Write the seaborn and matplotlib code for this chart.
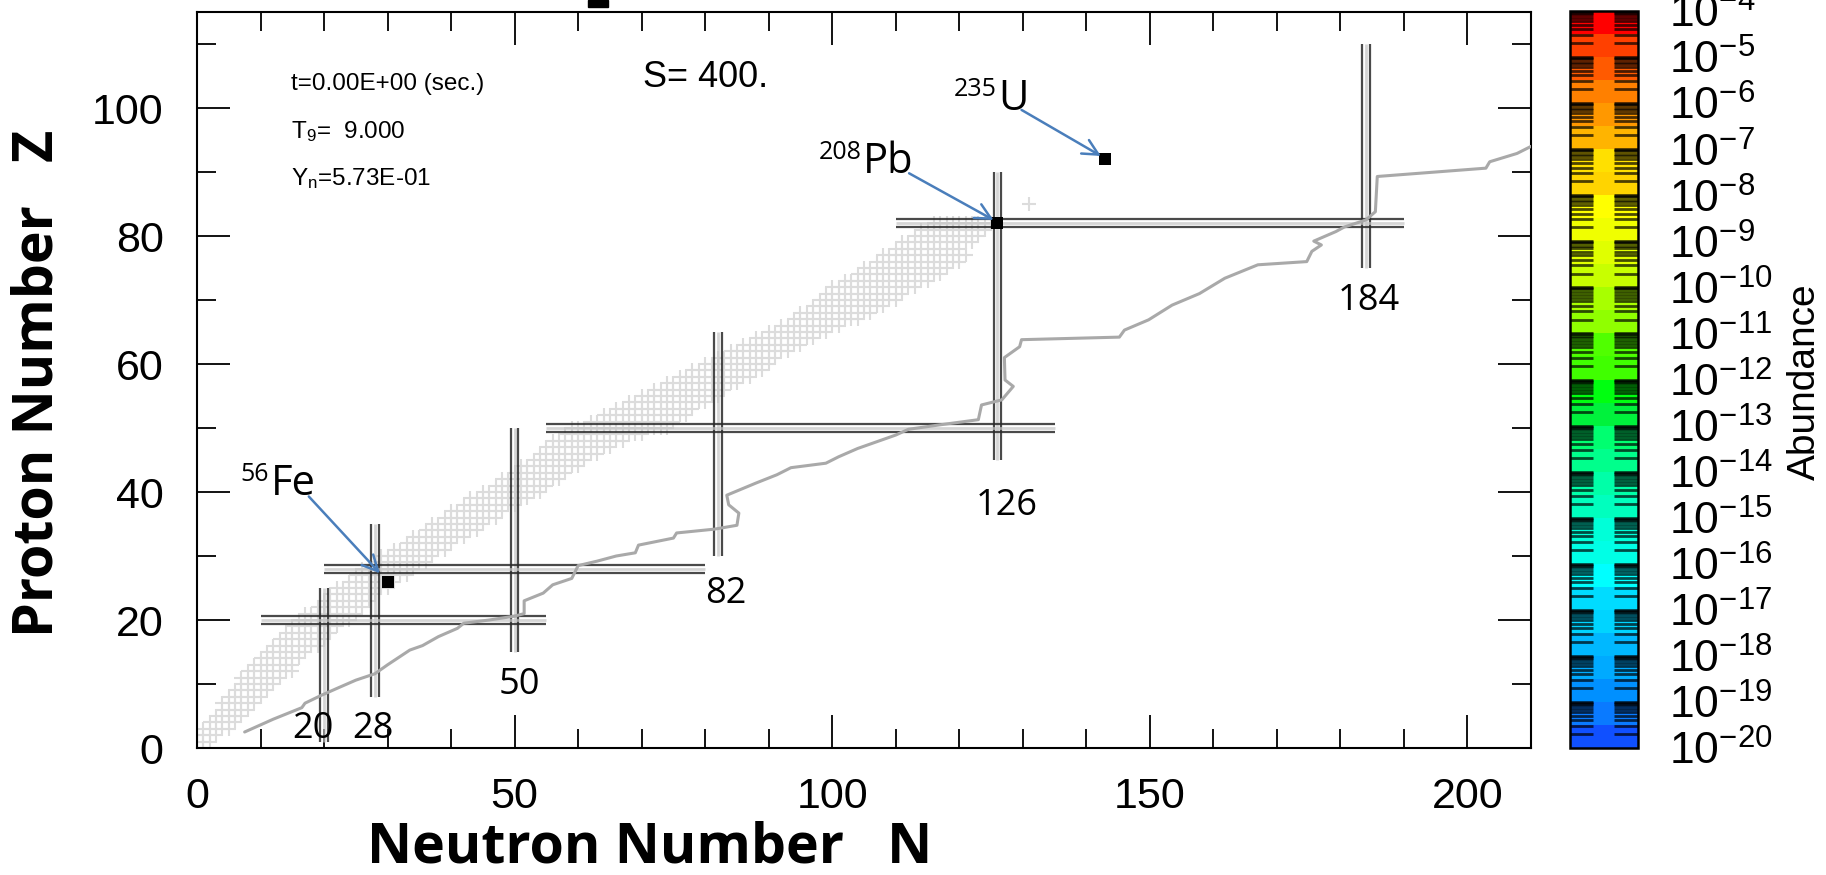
import numpy as np
import pandas as pd
import matplotlib
matplotlib.use("Agg")
import matplotlib.pyplot as plt
from matplotlib import font_manager
from matplotlib.colors import ListedColormap, LogNorm
from matplotlib.patches import Rectangle
from matplotlib.ticker import MultipleLocator, LogFormatterSciNotation
import seaborn as sns

# ---------------------------------------------------------------- data
# band of nuclides drawn as light crosses: neutron range for each proton number
band_Z = list(range(0, 83)) + [85]
band_Nlo = [0, 0, 0, 1, 2, 3, 4, 4, 5, 6, 7, 7, 8, 9, 10, 11, 12, 13, 14, 15,
            16, 17, 19, 20, 21, 22, 24, 25, 26, 28, 29, 31, 33, 34, 36, 37, 39, 40, 42, 43,
            45, 47, 48, 50, 51, 53, 54, 55, 56, 58, 59, 62, 64, 66, 68, 70, 72, 74, 76, 78,
            80, 82, 84, 86, 88, 90, 92, 94, 95, 97, 98, 99, 100, 102, 104, 105, 107, 108, 110,
            111, 113, 114, 116, 131]
band_Nhi = [1, 2, 3, 5, 6, 7, 8, 9, 10, 11, 12, 13, 15, 15, 16, 17, 19, 20, 21, 22,
            24, 25, 26, 27, 28, 30, 31, 33, 34, 36, 37, 39, 40, 42, 44, 45, 47, 48, 50, 52,
            54, 55, 57, 58, 60, 61, 63, 65, 67, 70, 74, 75, 77, 78, 80, 82, 83, 85, 87, 89,
            90, 91, 93, 95, 97, 99, 101, 104, 106, 108, 110, 111, 113, 115, 117, 118, 120, 121, 120,
            122, 123, 124, 125, 131]

# path line (N, Z)
path_N = [7.5, 12, 16.5, 17, 19.5, 22, 25, 28, 30, 33.5, 35.5, 38, 41, 42, 46, 50, 51.5,
          51.5, 54.5, 56, 59, 60, 63, 66, 69, 69.5, 75, 75.5, 81.5, 85, 85.3, 83.7, 83.4,
          88, 91.3, 93.5, 99, 101, 104, 110, 112, 117, 123, 123.5, 126.7, 128.5, 127.2,
          127.1, 129.5, 129.8, 145.2, 146, 149.8, 153.5, 157.8, 161.8, 167, 174.7, 175.5,
          177, 175.8, 179.3, 180.6, 184, 185.5, 185.8, 202.9, 203.5, 207.8, 210]
path_Z = [2.5, 4.5, 6.3, 7, 8.2, 9.3, 10.6, 11.6, 13, 15.3, 16, 17.4, 18.7, 19.5, 20, 20.6, 21,
          23, 24.2, 25.5, 26.5, 28.5, 29.2, 30, 30.5, 31.7, 32.8, 33.6, 34.2, 34.8, 36.7, 38, 39.5,
          41.4, 42.7, 43.8, 44.5, 45.5, 46.8, 48.9, 49.8, 50.5, 51.3, 53.6, 54.4, 56.5, 57.5,
          61, 62.7, 63.8, 64.2, 65.3, 66.9, 69.2, 71, 73.4, 75.5, 76, 77.6,
          78.6, 79.2, 80.7, 81.4, 82.5, 83.8, 89.3, 90.6, 91.6, 92.9, 94]

# highlighted nuclides
iso_names = ["56Fe", "208Pb", "235U"]
iso_N = [30, 126, 143]
iso_Z = [26, 82, 92]

# magic numbers: vertical (N) and horizontal (Z) guide lines with their extents
magicN = [20, 28, 50, 82, 126, 184]
magicN_zlo = [1, 8, 15, 30, 45, 75]
magicN_zhi = [25, 35, 50, 65, 90, 110]
magicZ = [20, 28, 50, 82]
magicZ_nlo = [10, 20, 55, 110]
magicZ_nhi = [55, 80, 135, 190]
magic_labels = ["20", "28", "50", "82", "126", "184"]
magic_lab_N = [18.2, 27.7, 50.7, 83.3, 127.4, 184.4]
magic_lab_Z = [3.0, 3.0, 9.9, 24.0, 37.8, 69.9]

# colour scale: one band per decade, (lower, upper) colour from 1e-20 upward
decades = list(range(-20, -4))
band_lower = ["#1050ff", "#0090ff", "#00b8ff", "#00dcff", "#00ffe6", "#00ffbe",
              "#00ff8c", "#00f23c", "#40ff00", "#90ff00", "#c8ff00", "#f0ff00",
              "#ffd400", "#ffb400", "#ff8000", "#ff4000"]
band_upper = ["#0a7aff", "#00aaff", "#00d4ff", "#00ffff", "#00ffd8", "#00ffa8",
              "#00ff70", "#00ff10", "#50ff00", "#a8ff00", "#e0ff00", "#ffff00",
              "#ffe000", "#ff9800", "#ff5a00", "#ff0000"]

# ---------------------------------------------------------------- style
sns.set_theme(style="white")
plt.rcParams["font.family"] = ["Liberation Sans", "DejaVu Sans"]
plt.rcParams["mathtext.fontset"] = "custom"
plt.rcParams["mathtext.rm"] = "Liberation Sans"
plt.rcParams["mathtext.it"] = "Liberation Sans:italic"
plt.rcParams["mathtext.bf"] = "Liberation Sans:bold"
for key in ["text.color", "axes.labelcolor", "xtick.color", "ytick.color", "axes.edgecolor"]:
    plt.rcParams[key] = "black"

installed = {f.name for f in font_manager.fontManager.ttflist}
if "Liberation Sans Narrow" in installed:
    info_family, info_size = ["Liberation Sans Narrow", "Liberation Sans"], 20
else:
    info_family, info_size = ["Liberation Sans", "DejaVu Sans"], 17.5

W, H = 1826, 875
fig = plt.figure(figsize=(W / 100, H / 100), dpi=100)
fig.patch.set_facecolor("white")

ax = fig.add_axes([197 / W, 1 - 748 / H, (1531 - 197) / W, (748 - 12) / H])
cax = fig.add_axes([1570 / W, 1 - 748 / H, (1638 - 1570) / W, (748 - 11) / H])

# band of crosses
rows = []
for z, lo, hi in zip(band_Z, band_Nlo, band_Nhi):
    for n in range(lo, hi + 1):
        rows.append((n, z))
band = pd.DataFrame(rows, columns=["N", "Z"])
sns.scatterplot(data=band, x="N", y="Z", marker="+", s=105, color="#dcdcdc",
                linewidth=1.5, ax=ax, legend=False, zorder=1)

# magic-number guide lines (doubled)
off = 0.6
for n, lo, hi in zip(magicN, magicN_zlo, magicN_zhi):
    ax.vlines(n, lo, hi, colors="#c4c4c4", lw=2.0, alpha=0.7, zorder=3)
    ax.vlines([n - off, n + off], lo, hi, colors="#2a2a2a", lw=1.6, alpha=0.85, zorder=3)
for z, lo, hi in zip(magicZ, magicZ_nlo, magicZ_nhi):
    ax.hlines(z, lo, hi, colors="#c4c4c4", lw=2.0, alpha=0.7, zorder=3)
    ax.hlines([z - off, z + off], lo, hi, colors="#2a2a2a", lw=1.6, alpha=0.85, zorder=3)

# path line
path = pd.DataFrame({"N": path_N, "Z": path_Z})
sns.lineplot(data=path, x="N", y="Z", sort=False, estimator=None, color="#a9a9a9",
             lw=2.2, ax=ax, zorder=4)

# highlighted nuclides
iso = pd.DataFrame({"N": iso_N, "Z": iso_Z})
sns.scatterplot(data=iso, x="N", y="Z", marker="s", s=75, color="black",
                edgecolor="black", linewidth=0, ax=ax, legend=False, zorder=6)

# magic number labels
for lab, n, z in zip(magic_labels, magic_lab_N, magic_lab_Z):
    ax.text(n, z, lab, ha="center", va="center", fontsize=26,
            family=["Open Sans", "DejaVu Sans"], zorder=7)

# isotope labels with arrows
arrow_blue = "#4a7ebb"
lab_pos = {"56Fe": (17.6, 39.3, 28.8, 27.3, 11.6, 39.5, "56", "Fe"),
           "208Pb": (112.1, 89.8, 125.4, 82.5, 104.9, 89.8, "208", "Pb"),
           "235U": (129.8, 99.7, 142.3, 92.5, 126.1, 99.7, "235", "U")}
for name in iso_names:
    x0, y0, x1, y1, tx, ty, mass, sym = lab_pos[name]
    ax.annotate("", xy=(x1, y1), xytext=(x0, y0),
                arrowprops=dict(arrowstyle="->", color=arrow_blue, lw=1.8,
                                mutation_scale=28, shrinkA=0, shrinkB=0), zorder=8)
    ax.text(tx, ty, sym, ha="left", va="baseline", fontsize=30,
            family=["Open Sans", "DejaVu Sans"], zorder=8)
    ax.annotate(mass, xy=(tx, ty), xytext=(-1, 10), textcoords="offset points",
                ha="right", va="baseline", fontsize=18,
                family=["Open Sans", "DejaVu Sans"], zorder=8)

# run info
ax.text(14.8, 103.8, "t=0.00E+00 (sec.)", ha="left", va="center", fontsize=info_size,
        family=info_family)
ax.text(14.8, 96.3, r"T$_{\mathdefault{9}}$=  9.000", ha="left", va="center",
        fontsize=info_size, family=info_family)
ax.text(14.8, 88.9, r"Y$_{\mathdefault{n}}$=5.73E-01", ha="left", va="center",
        fontsize=info_size, family=info_family)
ax.text(70.2, 104.7, "S= 400.", ha="left", va="center", fontsize=26)

# axes frame and ticks
ax.set_xlim(0, 210)
ax.set_ylim(0, 115)
ax.set_xlabel("")
ax.set_ylabel("")
ax.xaxis.set_major_locator(MultipleLocator(50))
ax.xaxis.set_minor_locator(MultipleLocator(10))
ax.yaxis.set_major_locator(MultipleLocator(20))
ax.yaxis.set_minor_locator(MultipleLocator(10))
ax.tick_params(which="major", direction="in", length=24, width=1.3,
               top=True, right=True, bottom=True, left=True, labelsize=31)
ax.tick_params(which="minor", direction="in", length=14, width=1.3,
               top=True, right=True, bottom=True, left=True)
ax.tick_params(axis="x", which="major", pad=21)
ax.tick_params(axis="y", which="major", pad=24)
for s in ax.spines.values():
    s.set_visible(True)
    s.set_color("black")
    s.set_linewidth(1.5)
ax.set_facecolor("white")

fig.text(650 / W, 1 - 848 / H, "Neutron Number   N", ha="center", va="center",
         fontsize=40, fontweight="bold", family=["Open Sans", "DejaVu Sans"])
fig.text(38 / W, 1 - 383 / H, "Proton Number   Z", ha="center", va="center",
         rotation=90, fontsize=40, fontweight="bold", family=["Open Sans", "DejaVu Sans"])

# colour bar
colors = []
for lo_c, up_c in zip(band_lower, band_upper):
    colors += [lo_c] * 5 + [up_c] * 5
cmap = ListedColormap(colors)
norm = LogNorm(vmin=1e-20, vmax=1e-4)
sm = plt.cm.ScalarMappable(norm=norm, cmap=cmap)
cb = fig.colorbar(sm, cax=cax)
cb.set_ticks([10.0 ** e for e in range(-20, -3)])
cb.ax.yaxis.set_major_formatter(LogFormatterSciNotation())
cb.ax.minorticks_off()
cb.ax.tick_params(length=0, pad=22, labelsize=32)
cb.outline.set_linewidth(1.8)
cb.outline.set_edgecolor("black")
for d in decades:
    ys = [k * 10.0 ** d for k in [2, 3, 4, 5, 6, 7, 8, 9, 9.5, 10]]
    cax.hlines(ys, 0, 0.34, colors="black", lw=2.0, alpha=0.7)
    cax.hlines(ys, 0.64, 1, colors="black", lw=2.0, alpha=0.7)
fig.text(1805 / W, 1 - 382 / H, "Abundance", rotation=90, ha="center", va="center",
         fontsize=28)

# small dark mark at the top edge
fig.patches.append(Rectangle((588 / W, 1 - 7 / H), 20 / W, 7 / H,
                             transform=fig.transFigure, color="black"))

fig.savefig("out.png", dpi=100, facecolor="white")
